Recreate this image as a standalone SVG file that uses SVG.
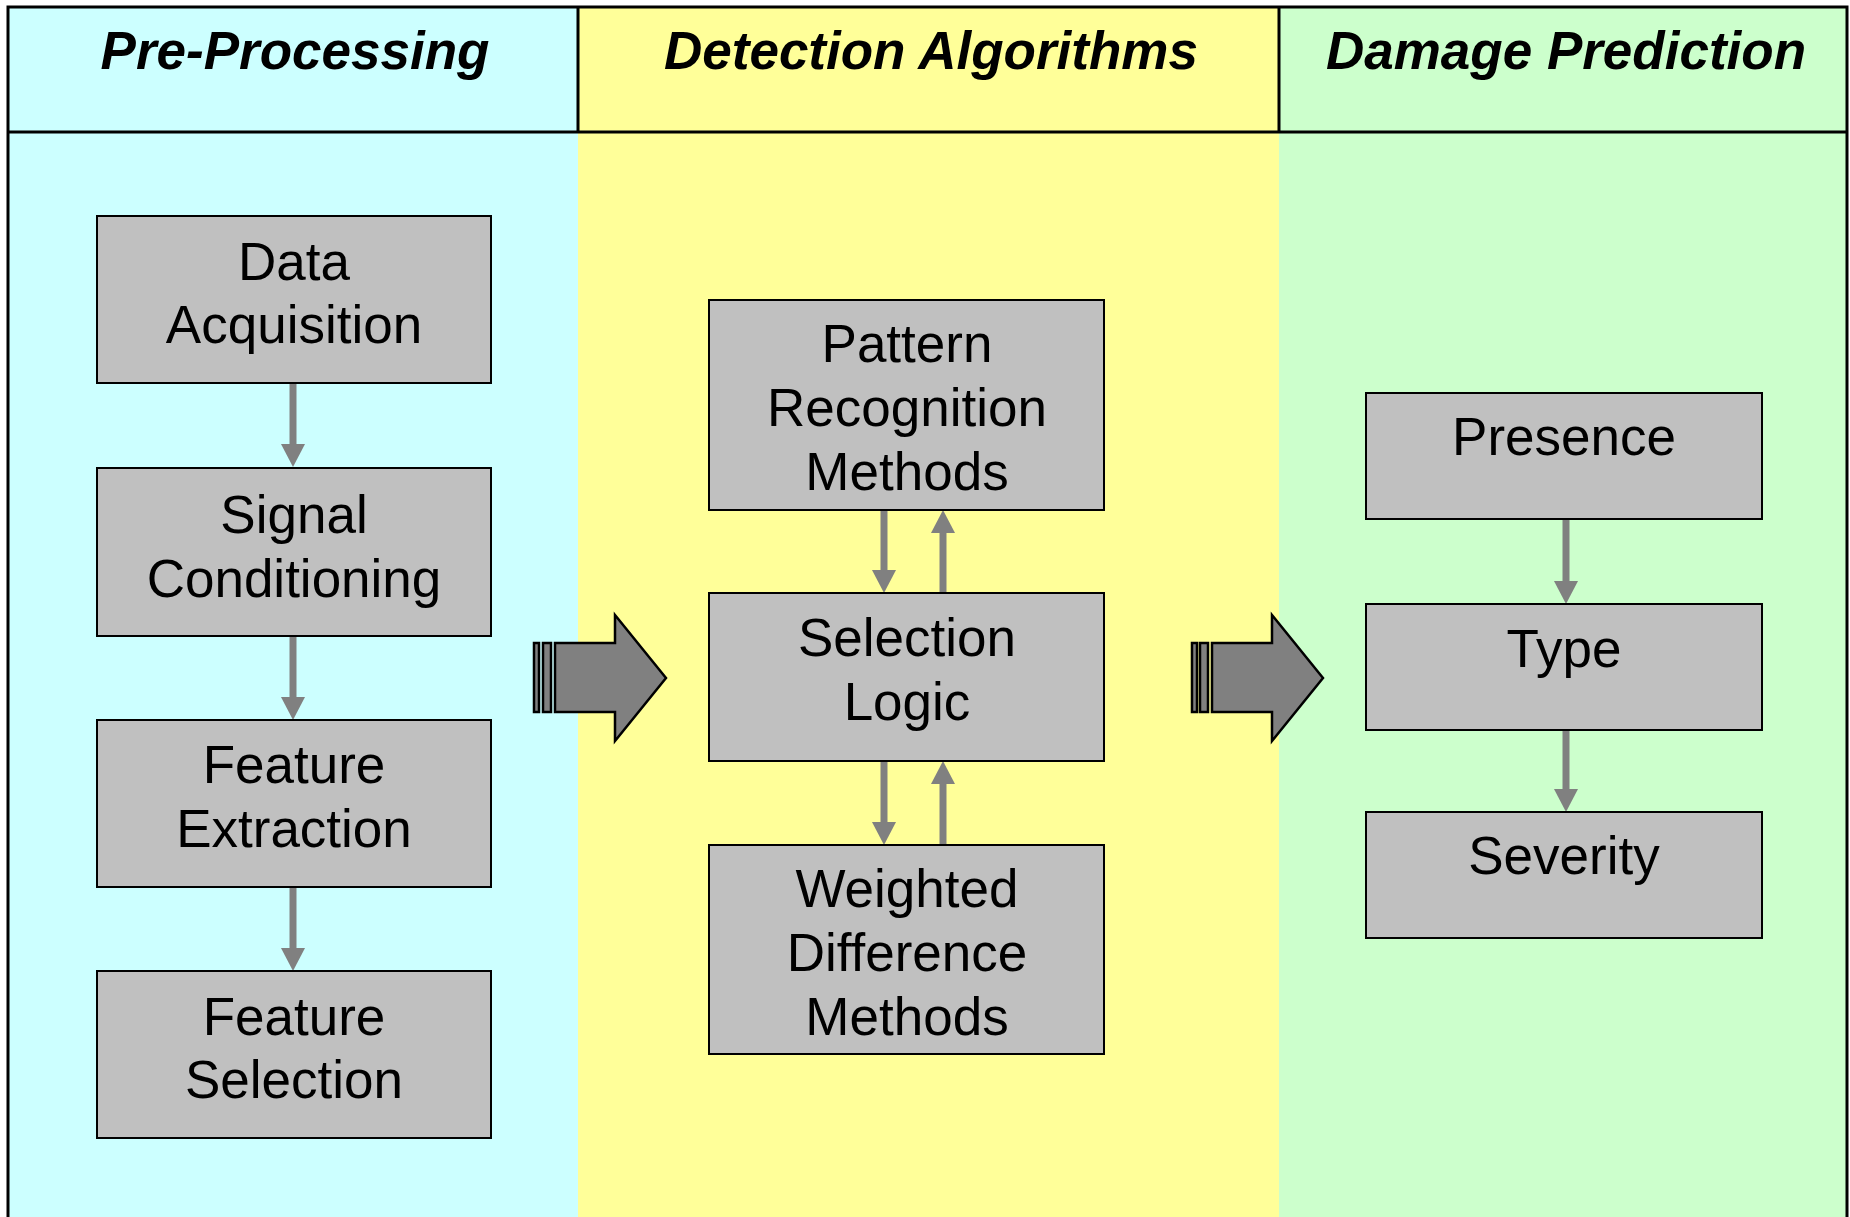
<svg xmlns="http://www.w3.org/2000/svg" width="1850" height="1217" viewBox="0 0 1850 1217">
<style>
.hdr{font-family:"Liberation Sans",Arial,sans-serif;font-size:53px;font-weight:bold;font-style:italic;fill:#000;text-anchor:middle}
.lbl{font-family:"Liberation Sans",Arial,sans-serif;font-size:53px;fill:#000;text-anchor:middle}
.box{fill:#C0C0C0;stroke:#000;stroke-width:2}
.frame{stroke:#000;stroke-width:3;fill:none}
.conn{stroke:#808080;stroke-width:7;fill:none;marker-end:url(#ah)}
.big{fill:#808080;stroke:#000;stroke-width:2.5;stroke-linejoin:miter}
</style>
<defs>
<marker id="ah" markerUnits="userSpaceOnUse" viewBox="0 0 23 24" markerWidth="23" markerHeight="24" refX="0" refY="12" orient="auto">
<path d="M0,0 L23,12 L0,24 Z" fill="#808080"/>
</marker>
</defs>
<rect x="0" y="0" width="1850" height="1217" fill="#FFFFFF"/>
<g id="lanes">
<rect x="8" y="7" width="570" height="1210" fill="#CCFFFF"/>
<rect x="578" y="7" width="701" height="1210" fill="#FFFF99"/>
<rect x="1279" y="7" width="569" height="1210" fill="#CCFFCC"/>
<path class="frame" d="M8,1217 L8,7 L1847,7 L1847,1217 M8,132 L1847,132 M578,7 L578,132 M1279,7 L1279,132"/>
<text class="hdr" x="295" y="69">Pre-Processing</text>
<text class="hdr" x="931" y="69">Detection Algorithms</text>
<text class="hdr" x="1566" y="69">Damage Prediction</text>
</g>
<g id="connectors">
<line class="conn" x1="293" y1="384" x2="293" y2="444"/>
<line class="conn" x1="293" y1="637" x2="293" y2="697"/>
<line class="conn" x1="293" y1="888" x2="293" y2="948"/>
<line class="conn" x1="884" y1="511" x2="884" y2="570"/>
<line class="conn" x1="943" y1="592" x2="943" y2="533"/>
<line class="conn" x1="884" y1="762" x2="884" y2="822"/>
<line class="conn" x1="943" y1="844" x2="943" y2="784"/>
<line class="conn" x1="1566" y1="520" x2="1566" y2="581"/>
<line class="conn" x1="1566" y1="731" x2="1566" y2="789"/>
<g id="bigarrow1">
<rect class="big" x="534" y="643" width="5" height="69"/>
<rect class="big" x="543" y="643" width="8" height="69"/>
<polygon class="big" points="555,643 615,643 615,615 666,678 615,741 615,712 555,712"/>
</g>
<g id="bigarrow2">
<rect class="big" x="1192" y="643" width="5" height="69"/>
<rect class="big" x="1200" y="643" width="8" height="69"/>
<polygon class="big" points="1212,643 1272,643 1272,615 1323,678 1272,741 1272,712 1212,712"/>
</g>
</g>
<g id="data-acquisition">
<rect class="box" x="97" y="216" width="394" height="167"/>
<text class="lbl" x="294" y="280">Data</text>
<text class="lbl" x="294" y="343">Acquisition</text>
</g>
<g id="signal-conditioning">
<rect class="box" x="97" y="468" width="394" height="168"/>
<text class="lbl" x="294" y="533">Signal</text>
<text class="lbl" x="294" y="597">Conditioning</text>
</g>
<g id="feature-extraction">
<rect class="box" x="97" y="720" width="394" height="167"/>
<text class="lbl" x="294" y="783">Feature</text>
<text class="lbl" x="294" y="847">Extraction</text>
</g>
<g id="feature-selection">
<rect class="box" x="97" y="971" width="394" height="167"/>
<text class="lbl" x="294" y="1035">Feature</text>
<text class="lbl" x="294" y="1098">Selection</text>
</g>
<g id="pattern-recognition">
<rect class="box" x="709" y="300" width="395" height="210"/>
<text class="lbl" x="907" y="362">Pattern</text>
<text class="lbl" x="907" y="426">Recognition</text>
<text class="lbl" x="907" y="490">Methods</text>
</g>
<g id="selection-logic">
<rect class="box" x="709" y="593" width="395" height="168"/>
<text class="lbl" x="907" y="656">Selection</text>
<text class="lbl" x="907" y="720">Logic</text>
</g>
<g id="weighted-difference">
<rect class="box" x="709" y="845" width="395" height="209"/>
<text class="lbl" x="907" y="907">Weighted</text>
<text class="lbl" x="907" y="971">Difference</text>
<text class="lbl" x="907" y="1035">Methods</text>
</g>
<g id="presence">
<rect class="box" x="1366" y="393" width="396" height="126"/>
<text class="lbl" x="1564" y="455">Presence</text>
</g>
<g id="type">
<rect class="box" x="1366" y="604" width="396" height="126"/>
<text class="lbl" x="1564" y="667">Type</text>
</g>
<g id="severity">
<rect class="box" x="1366" y="812" width="396" height="126"/>
<text class="lbl" x="1564" y="874">Severity</text>
</g>
</svg>
